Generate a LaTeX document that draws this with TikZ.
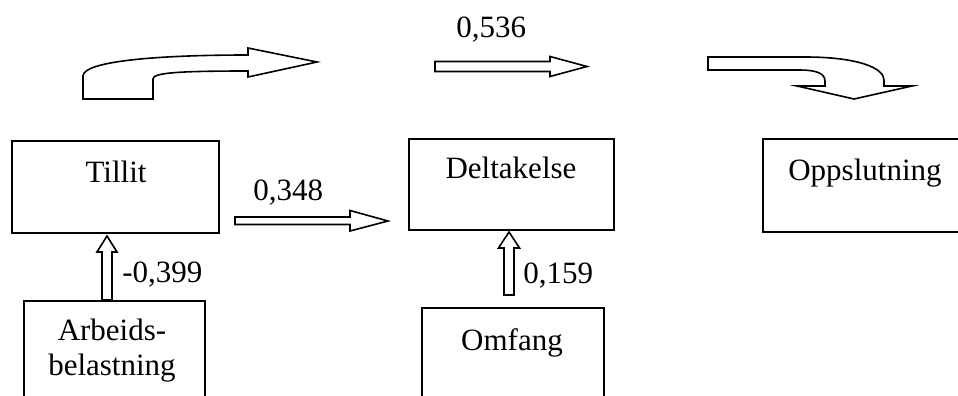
\documentclass[tikz,border=0pt]{standalone}
\usepackage{fontspec}
\setmainfont{Liberation Serif}
\usetikzlibrary{calc}

\tikzset{
	box/.style={draw, line width=1pt, rectangle, inner sep=0pt, anchor=north west},
	lbl/.style={inner sep=0pt, font=\fontsize{15.5}{17.5}\selectfont},
	blockarrow/.style={draw, fill=white, line width=0.8pt, line join=miter},
}

\begin{document}
\begin{tikzpicture}[x=0.5pt, y=-0.5pt]
	%frame of the picture
	\useasboundingbox (0,0) rectangle (958,396);
	\clip (0,0) rectangle (958,396);
	
	%boxes
	\node[box, minimum width=103.5pt, minimum height=46pt] (tillit) at (11,140) {};
	\node[box, minimum width=102.5pt, minimum height=45.5pt] (deltakelse) at (408,138) {};
	\node[box, minimum width=103pt, minimum height=46.5pt] (oppslutning) at (762,138) {};
	\node[box, minimum width=90.5pt, minimum height=60pt] (arbeid) at (23,300) {};
	\node[box, minimum width=91pt, minimum height=56.5pt] (omfang) at (421,307) {};
	
	%texts in the boxes
	\node[lbl, anchor=base] (tillit text) at (116,182) {Tillit};
	\node[lbl, anchor=base] (deltakelse text) at (511,178) {Deltakelse};
	\node[lbl, anchor=base] (oppslutning text) at (865,180) {Oppslutning};
	\node[lbl, anchor=center, align=center] (arbeid text) at (112,351) {Arbeids-\\belastning};
	\node[lbl, anchor=base] (omfang text) at (512,350) {Omfang};
	
	%coefficients
	\node[lbl, anchor=base west] (c399) at (122,282) {-0,399};
	\node[lbl, anchor=base west] (c348) at (253,200) {0,348};
	\node[lbl, anchor=base west] (c159) at (523,283) {0,159};
	\node[lbl, anchor=base west] (c536) at (456,37) {0,536};
	
	%tails and tips of the straight arrows
	\coordinate (up1 tail) at (107,300);
	\coordinate (up1 tip) at (107,236);
	\coordinate (up2 tail) at (509,295);
	\coordinate (up2 tip) at (509,232);
	\coordinate (right tail) at (235,221.5);
	\coordinate (right tip) at (388,221);
	\coordinate (top tail) at (435,66.5);
	\coordinate (top tip) at (587,66.5);
	
	%straight block arrows
	\draw[blockarrow] (up1 tail) ++(-5,0) -- ++(0,-48) -- ++(-5,0) -- (up1 tip) -- ++(10,16) -- ++(-5,0) -- ++(0,48) -- cycle;
	\draw[blockarrow] (up2 tail) ++(-5,0) -- ++(0,-47) -- ++(-5.5,0) -- (up2 tip) -- ++(10.5,16) -- ++(-5.5,0) -- ++(0,47) -- cycle;
	\draw[blockarrow] (right tail) ++(0,-4.5) -- ++(115,0) -- ++(0,-6.5) -- (right tip) -- ++(-38,10) -- ++(0,-6.5) -- ++(-115,0) -- cycle;
	\draw[blockarrow] (top tail) ++(0,-5) -- ++(115,0) -- ++(0,-5) -- (top tip) -- ++(-37,10) -- ++(0,-5) -- ++(-115,0) -- cycle;
	
	%curved block arrows
	\draw[blockarrow] (83,99) -- (153,99) -- (153,79) .. controls (153,73) and (175,71) .. (248,71)
		-- (248,77) -- (317,62) -- (248,48) -- (248,55) .. controls (150,55) and (83,62) .. (83,76) -- cycle;
	\draw[blockarrow] (708,57) -- (805,57) .. controls (858,57) and (884,68) .. (884,80) -- (884,86)
		-- (912,86) -- (854,99) -- (797,86) -- (825,86) -- (825,81) .. controls (825,73) and (815,70) .. (800,70)
		-- (708,70) -- cycle;
\end{tikzpicture}
\end{document}
